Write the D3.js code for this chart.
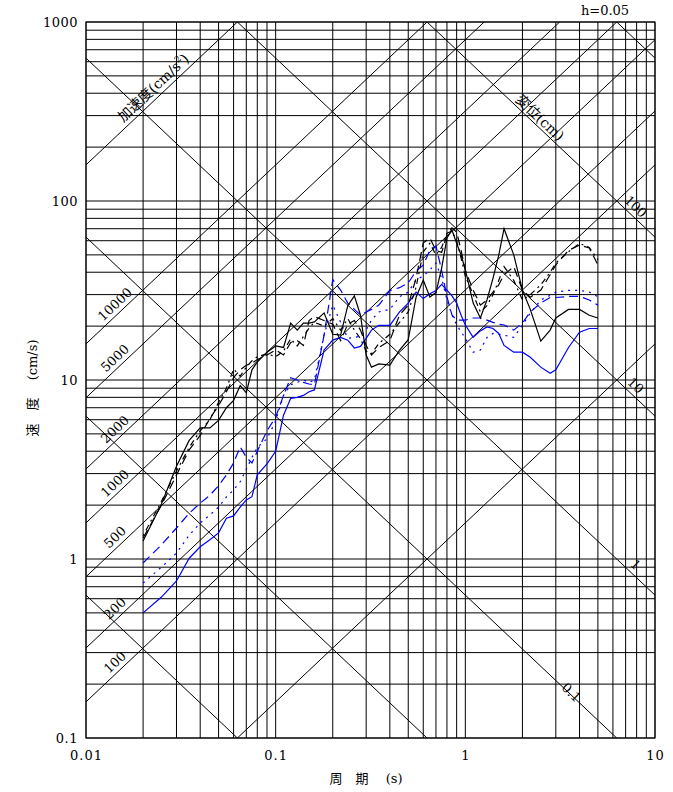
<!DOCTYPE html>
<html><head><meta charset="utf-8">
<script src="https://cdn.jsdelivr.net/npm/d3@7"></script>
<style>body{margin:0;background:#fff} text{white-space:pre}</style>
</head><body>
<svg id="c" width="673" height="792"></svg>
<script>
// ---------------- data ----------------
const periods=[0.02,0.025,0.03,0.035,0.04,0.045,0.05,0.055,0.06,0.065,0.07,0.075,0.08,0.09,0.1,0.11,0.12,0.13,0.14,0.15,0.16,0.18,0.2,0.22,0.24,0.26,0.28,0.3,0.32,0.35,0.4,0.45,0.5,0.55,0.6,0.65,0.7,0.75,0.8,0.85,0.9,0.95,1.0,1.1,1.2,1.3,1.4,1.5,1.6,1.8,2.0,2.2,2.5,2.8,3.0,3.5,4.0,4.5,5.0];
const blackSolid=[1.26,2.03,3.3,4.6,5.4,5.4,5.95,7.0,7.7,9.3,8.5,11.4,12.6,14.3,15.5,15.2,20.8,19.0,20.8,20.8,21.1,23.7,18.0,17.8,26,29.5,23,13.8,11.8,12.3,12.1,14.7,16.8,29,36.2,29.1,30.8,42.2,62.1,68.9,58,49.9,41.2,26.9,22.2,28,37.1,49.9,70,50,31.8,24.8,16.5,19,22.2,24.8,24.8,23,22.2];
const blackDashed=[1.31,2.0,2.95,4.07,4.9,6.1,7.2,8.6,10.3,11.4,12.1,12.4,13.0,13.8,14.7,13.8,16.2,16.6,15.6,21.5,22.6,21.5,20.5,16.6,20.5,21.5,19,15.6,13.8,15.2,16.6,23.1,26.2,37.1,58.2,62.1,53,51.6,64.7,70.8,67,53,41,31.8,26.2,28,31,34,38.7,43,31.8,29,31.8,38.7,44,53,56.7,54.6,44];
const blackDotted=[1.35,2.1,3.1,4.2,5.2,6.0,7.5,9.0,11.5,10.5,11.8,12.8,13.5,14.0,13.5,14.5,17,15.5,17.5,19.5,21,20,22,19,22,19,17,14.5,14,16,18,21,24,33,52,58,50,55,66,68,60,48,38,30,24,26,30,36,43,36,28,30,34,40,45,52,58,55,47];
const blueSolid=[0.50,0.613,0.754,1.01,1.17,1.28,1.40,1.69,1.74,1.95,2.14,2.23,2.95,3.4,4.0,6.36,7.9,8.0,8.2,8.6,8.8,14.7,16.7,17.3,16.7,15.1,15.4,17.1,19,20.2,20.2,24,26.9,31,28.5,30.3,31.6,34.2,31.8,29.5,26.9,23,20.3,17.3,18.8,19.8,19.4,18.2,15.6,14.3,14.3,13.4,11.8,10.9,11.4,15.2,18.5,19.4,19.4];
const blueDashed=[0.95,1.2,1.49,1.8,2.05,2.27,2.57,2.95,3.44,4.23,3.7,3.44,4.0,5.2,6.2,8.2,10.3,10,9.7,9.5,9.4,17.8,36.4,31.8,26.9,24.8,23.1,24,24.8,26.2,31.6,32.8,34.9,40.6,43.8,53,56,41,29.2,23.1,21.6,21.6,21.6,22.2,22.2,21.6,21,20.5,20.3,19.0,20.8,24,26.9,28.9,28.9,29.3,29.3,28,26.2];
const blueDotted=[0.734,0.90,1.08,1.36,1.59,1.76,1.95,2.22,2.43,2.7,3.17,3.7,4.2,4.7,5.9,8.2,9.4,9.7,10,9.7,10,17.8,26.2,21,17.1,17.3,17.6,19,21.6,24,24.8,29.2,31,36.3,38.1,41.2,45,37.1,28,23.1,20.3,18.6,17.1,14.3,14.7,17.3,18.2,18,17.8,17.3,20.3,23.6,28,29.7,30.9,31.7,31.7,31,29.2];

const xTickValues=[0.01,0.1,1,10];
const xTickLabels=["0.01","0.1","1","10"];
const yTickValues=[0.1,1,10,100,1000];
const yTickLabels=["0.1","1","10","100","1000"];
const accLines=[10,100,200,500,1000,2000,5000,10000,100000];
const accLabelValues=[100,200,500,1000,2000,5000,10000];
const dispLines=[0.001,0.01,0.1,1,10,100,1000];
const dispLabelValues=[0.1,1,10,100];
const dispLabelTexts=["0.1","1","10","100"];

// ---------------- chart ----------------
const L=86,R=655,T=22,B=738;
const svg=d3.select('#c');
const x=d3.scaleLog().domain([0.01,10]).range([L,R]);
const y=d3.scaleLog().domain([0.1,1000]).range([B,T]);
const FONT='"DejaVu Serif","Noto Sans CJK JP",serif';
const FS=13;

svg.append('defs').append('clipPath').attr('id','clip')
  .append('rect').attr('x',L).attr('y',T).attr('width',R-L).attr('height',B-T);

// grid
const xGrid=[],yGrid=[];
[0.01,0.1,1].forEach(d=>{for(let k=1;k<10;k++)xGrid.push(+(k*d).toPrecision(3));});
xGrid.push(10);
[0.1,1,10,100].forEach(d=>{for(let k=1;k<10;k++)yGrid.push(+(k*d).toPrecision(3));});
yGrid.push(1000);
const g=svg.append('g').attr('stroke','#000').attr('stroke-width',1);
g.selectAll('.vx').data(xGrid).enter().append('line')
  .attr('x1',d=>x(d)).attr('x2',d=>x(d)).attr('y1',T).attr('y2',B);
g.selectAll('.hy').data(yGrid).enter().append('line')
  .attr('y1',d=>y(d)).attr('y2',d=>y(d)).attr('x1',L).attr('x2',R);

// tripartite diagonal lines
const TT=2*Math.PI;
const diag=svg.append('g').attr('clip-path','url(#clip)').attr('stroke','#000').attr('stroke-width',1).attr('fill','none');
const ln=d3.line().x(d=>x(d[0])).y(d=>y(d[1]));
accLines.forEach(A=>{
  diag.append('path').attr('d',ln([[0.001,A*0.001/TT],[100,A*100/TT]]));
});
dispLines.forEach(D=>{
  diag.append('path').attr('d',ln([[0.001,TT*D/0.001],[100,TT*D/100]]));
});

// frame
svg.append('rect').attr('x',L).attr('y',T).attr('width',R-L).attr('height',B-T)
  .attr('fill','none').attr('stroke','#000').attr('stroke-width',1);

// angle of diagonals in pixels
const ang=Math.atan((y(1)-y(10))/(x(1)-x(0.1)))*180/Math.PI;

function accY(A,px){const t=x.invert(px);return y(A*t/TT);}
function dispY(D,px){const t=x.invert(px);return y(TT*D/t);}
// acceleration labels
accLabelValues.forEach(A=>{
  const px=121, py=accY(A,px);
  svg.append('g').attr('transform',`translate(${px},${py}) rotate(${-ang})`)
    .append('text').attr('y',-8).attr('text-anchor','middle').attr('dominant-baseline','middle')
    .attr('font-family',FONT).attr('font-size',FS).text(A);
});
// displacement labels
dispLabelValues.forEach((D,i)=>{
  let px=629.5, py=dispY(D,px), off=8;
  if(py>700){px=570;py=dispY(D,px);off=1;}
  svg.append('g').attr('transform',`translate(${px},${py}) rotate(${ang})`)
    .append('text').attr('y',-off).attr('text-anchor','middle').attr('dominant-baseline','middle')
    .attr('font-family',FONT).attr('font-size',FS).text(dispLabelTexts[i]);
});
// axis-type labels on diagonals
{
  const px=160, py=accY(100000,px);
  const t=svg.append('g').attr('transform',`translate(${px},${py}) rotate(${-ang})`)
    .append('text').attr('y',-9).attr('text-anchor','middle').attr('dominant-baseline','middle')
    .attr('font-family',FONT).attr('font-size',14);
  t.append('tspan').text('加速度(cm/s');
  t.append('tspan').attr('font-size',9).attr('dy',-5).text('2');
  t.append('tspan').attr('dy',5).text(')');
}
{
  const px=534.5, py=dispY(100,px);
  svg.append('g').attr('transform',`translate(${px},${py}) rotate(${ang})`)
    .append('text').attr('y',-7).attr('text-anchor','middle').attr('dominant-baseline','middle')
    .attr('font-family',FONT).attr('font-size',14).text('変位(cm)');
}

// curves
const series=[
  {v:blueSolid,c:'#0000ff',dash:null},
  {v:blueDashed,c:'#0000ff',dash:'9,5'},
  {v:blueDotted,c:'#0000ff',dash:'2,5'},
  {v:blackSolid,c:'#000',dash:null},
  {v:blackDashed,c:'#000',dash:'9,5'},
  {v:blackDotted,c:'#000',dash:'2,4,6,4'},
];
const cl=d3.line().x(d=>x(d[0])).y(d=>y(d[1]));
series.forEach(s=>{
  svg.append('path').attr('d',cl(periods.map((p,i)=>[p,s.v[i]])))
    .attr('fill','none').attr('stroke',s.c).attr('stroke-width',1.2)
    .attr('stroke-dasharray',s.dash);
});

// axes (labels only)
const xa=svg.append('g').attr('transform',`translate(0,${B})`)
  .call(d3.axisBottom(x).tickValues(xTickValues).tickFormat((d,i)=>xTickLabels[i]).tickSize(0).tickPadding(13));
xa.select('.domain').remove();
xa.selectAll('text').attr('font-family',FONT).attr('font-size',FS).attr('letter-spacing',1).attr('fill','#000');
const ya=svg.append('g').attr('transform',`translate(${L},0)`)
  .call(d3.axisLeft(y).tickValues(yTickValues).tickFormat((d,i)=>yTickLabels[i]).tickSize(0).tickPadding(8));
ya.select('.domain').remove();
ya.selectAll('text').attr('font-family',FONT).attr('font-size',FS).attr('letter-spacing',0.5).attr('fill','#000');

// titles
svg.append('text').attr('x',366).attr('y',783).attr('text-anchor','middle')
  .attr('font-family',FONT).attr('font-size',13).text('周　期　 (s)');
svg.append('text').attr('transform','translate(37,388) rotate(-90)').attr('text-anchor','middle')
  .attr('font-family',FONT).attr('font-size',13).text('速　度　 (cm/s)');
svg.append('text').attr('x',605).attr('y',15).attr('text-anchor','middle')
  .attr('font-family',FONT).attr('font-size',13).text('h=0.05');
</script>
</body></html>
